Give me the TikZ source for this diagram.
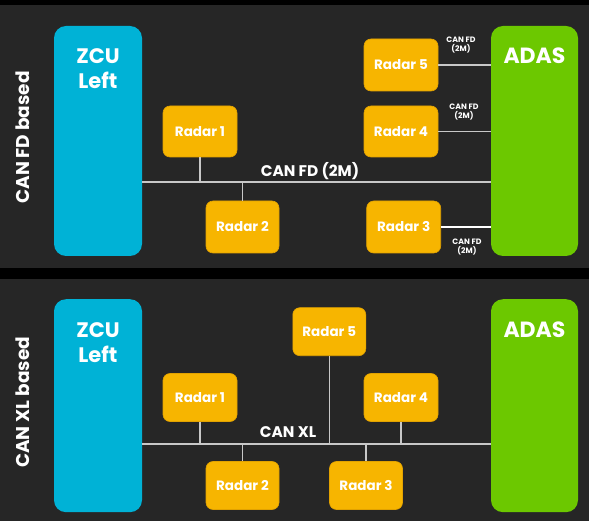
\documentclass[tikz,border=0pt]{standalone}
\usepackage{fontspec}
\setmainfont{Poppins}
\definecolor{bgpanel}{RGB}{38,38,38}
\definecolor{zcucyan}{RGB}{0,178,214}
\definecolor{adasgreen}{RGB}{108,200,0}
\definecolor{radarorange}{RGB}{247,181,0}
\definecolor{radaredge}{RGB}{226,162,0}
\definecolor{busgray}{RGB}{200,200,200}
\begin{document}
\begin{tikzpicture}[x=1pt,y=-1pt,
  ecu/.style={rounded corners=12pt, inner sep=0pt},
  zcubox/.style={ecu, fill=zcucyan, minimum width=88pt},
  adasbox/.style={ecu, fill=adasgreen, minimum width=87pt},
  radarbox/.style={rounded corners=7pt, fill=radarorange, draw=radaredge, line width=0.6pt,
    minimum width=73pt, text=white, font=\bfseries\fontsize{13.5}{15}\selectfont, inner sep=0pt},
  bigtext/.style={text=white, font=\bfseries\fontsize{21}{25}\selectfont, align=center, inner sep=0pt},
  sidetext/.style={text=white, rotate=90, font=\bfseries\fontsize{18.5}{20}\selectfont, inner sep=0pt},
  buslabel/.style={text=white, font=\bfseries\fontsize{15.4}{17}\selectfont, inner sep=0pt},
  smalllabel/.style={text=white, font=\bfseries\fontsize{7.8}{9}\selectfont, align=center, inner sep=0pt},
  bus/.style={draw=busgray, line width=1.1pt},
  link/.style={draw=busgray, line width=1.1pt}
]
\useasboundingbox (0,0) rectangle (589,521);
\fill[black] (0,0) rectangle (589,521);
\fill[bgpanel] (0,5) rectangle (589,268.3);
\fill[bgpanel] (0,279) rectangle (589,521);

% ---------------- Panel 1: CAN FD ----------------
\node[sidetext] (side1) at (23,137.5) {CAN FD based};
\node[zcubox, minimum height=230pt] (zcu1) at (98,141) {};
\node[adasbox, minimum height=230pt] (adas1) at (534.5,141) {};
\node[bigtext] (zcut1) at (98,68.5) {ZCU\\Left};
\node[bigtext, font=\bfseries\fontsize{22}{25}\selectfont] (adast1) at (534.5,56) {ADAS};

\node[radarbox, minimum width=74pt, minimum height=51pt] (r1a) at (200,131.5) {Radar 1};
\node[radarbox, minimum height=52pt] (r2a) at (242.5,227) {Radar 2};
\node[radarbox, minimum width=74pt, minimum height=52pt] (r5a) at (401,65) {Radar 5};
\node[radarbox, minimum width=74pt, minimum height=51pt] (r4a) at (401,131.5) {Radar 4};
\node[radarbox, minimum width=74pt, minimum height=52pt] (r3a) at (403.7,227) {Radar 3};

\coordinate (bus1) at (300,182);
\draw[bus] (zcu1.east |- bus1) -- (adas1.west |- bus1);
\draw[link] (r1a.south) -- (r1a.south |- bus1);
\draw[link] (r2a.north) -- (r2a.north |- bus1);
\draw[link] (r5a.east) -- (r5a.east -| adas1.west);
\draw[link] (r4a.east) -- (r4a.east -| adas1.west);
\draw[link, draw=white] (r3a.east) -- (r3a.east -| adas1.west);

\node[buslabel] (bl1) at (310,171) {CAN FD (2M)};
\node[smalllabel] (s5) at (461,45.5) {CAN FD\\(2M)};
\node[smalllabel] (s4) at (464,112.5) {CAN FD\\(2M)};
\node[smalllabel] (s3) at (467,247.5) {CAN FD\\(2M)};

% ---------------- Panel 2: CAN XL ----------------
\node[sidetext] (side2) at (23,402.5) {CAN XL based};
\node[zcubox, minimum height=213pt] (zcu2) at (98,405.7) {};
\node[adasbox, minimum height=213pt] (adas2) at (534.5,405.7) {};
\node[bigtext] (zcut2) at (98,342.5) {ZCU\\Left};
\node[bigtext, font=\bfseries\fontsize{22}{25}\selectfont] (adast2) at (534.5,329.5) {ADAS};

\node[radarbox, minimum width=74pt, minimum height=48pt] (r1b) at (200,397.5) {Radar 1};
\node[radarbox, minimum height=48pt] (r2b) at (242.5,485.5) {Radar 2};
\node[radarbox, minimum height=48pt] (r5b) at (329.3,331.7) {Radar 5};
\node[radarbox, minimum width=74pt, minimum height=48pt] (r4b) at (401,397.5) {Radar 4};
\node[radarbox, minimum height=48pt] (r3b) at (366,485.5) {Radar 3};

\coordinate (bus2) at (300,444);
\draw[bus] (zcu2.east |- bus2) -- (adas2.west |- bus2);
\draw[link] (r1b.south) -- (r1b.south |- bus2);
\draw[link] (r2b.north) -- (r2b.north |- bus2);
\draw[link] (r5b.south) -- (r5b.south |- bus2);
\draw[link] (r4b.south) -- (r4b.south |- bus2);
\draw[link] (r3b.north) -- (r3b.north |- bus2);

\node[buslabel] (bl2) at (288,432) {CAN XL};
\end{tikzpicture}
\end{document}
